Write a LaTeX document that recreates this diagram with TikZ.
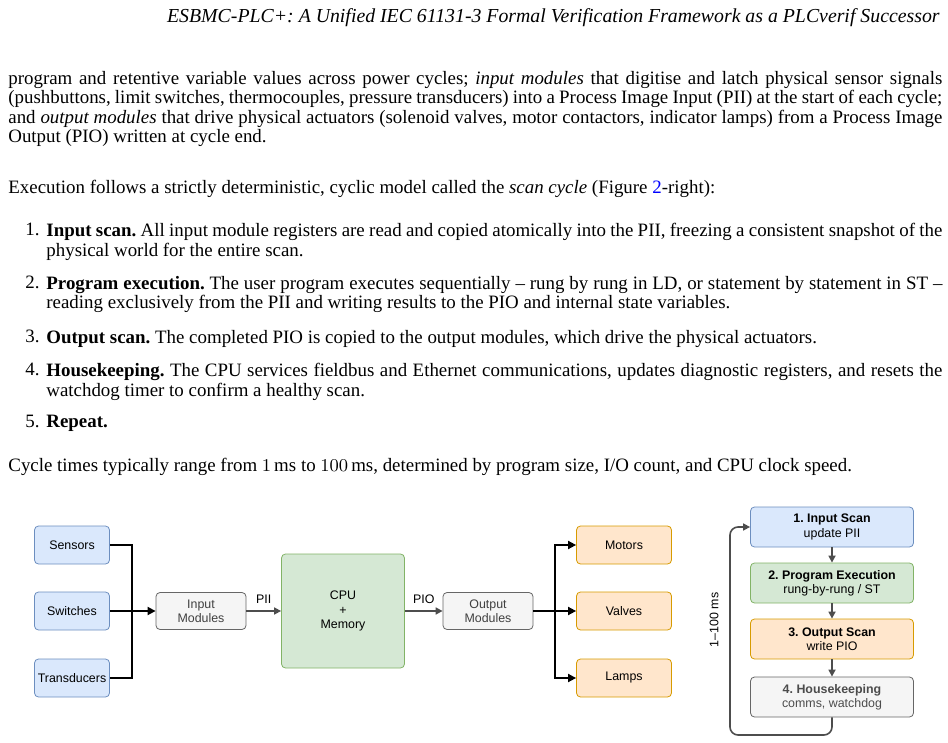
\documentclass[tikz,border=0pt]{standalone}
\usepackage{fontspec}
\setmainfont{Liberation Serif}
\setsansfont{Liberation Sans}
\usetikzlibrary{positioning,arrows.meta}
\definecolor{bluefill}{HTML}{DAE8FC}\definecolor{bluedraw}{HTML}{6C8EBF}
\definecolor{greenfill}{HTML}{D5E8D4}\definecolor{greendraw}{HTML}{82B366}
\definecolor{orangefill}{HTML}{FFE6CC}\definecolor{orangedraw}{HTML}{D79B00}
\definecolor{greyfill}{HTML}{F5F5F5}\definecolor{greydraw}{HTML}{666666}
\definecolor{darkline}{HTML}{4D4D4D}
\definecolor{linkblue}{HTML}{0000FF}
\frenchspacing
\tikzset{
  para/.style={anchor=north west,inner sep=0pt,text width=467pt,align=justify,font=\fontsize{9.45}{9.65}\selectfont},
  item/.style={anchor=north west,inner sep=0pt,text width=448pt,align=justify,font=\fontsize{9.45}{9.65}\selectfont},
  blk/.style={draw,rounded corners=2pt,line width=0.4pt,font=\sffamily\fontsize{6.2}{7.2}\selectfont,align=center,inner sep=0pt},
  io/.style={blk,minimum width=37.5pt,minimum height=19pt},
  inblk/.style={io,fill=bluefill,draw=bluedraw},
  outblk/.style={blk,minimum width=47.5pt,minimum height=19pt,fill=orangefill,draw=orangedraw},
  mod/.style={blk,minimum width=45pt,minimum height=18.5pt,fill=greyfill,draw=greydraw,text=black!75},
  stage/.style={blk,minimum width=81.5pt,minimum height=20pt},
  bus/.style={line width=0.9pt,-{Triangle[length=4pt,width=4pt]}},
  flow/.style={line width=0.8pt,darkline,-{Triangle[length=3.5pt,width=3.5pt]}}
}
\begin{document}
\begin{tikzpicture}[x=0.5pt,y=-0.5pt]
\useasboundingbox (0,0) rectangle (948,743);
% page text
\node[anchor=east,inner sep=0pt,font=\itshape\fontsize{9.9}{11}\selectfont] (head) at (940,18)
  {ESBMC-PLC+: A Unified IEC 61131-3 Formal Verification Framework as a PLCverif Successor};
\node[para] (p1) at (8,71) {program and retentive variable values across power cycles; \textit{input modules} that digitise and latch physical sensor signals (pushbuttons, limit switches, thermocouples, pressure transducers) into a Process Image Input (PII) at the start of each cycle; and \textit{output modules} that drive physical actuators (solenoid valves, motor contactors, indicator lamps) from a Process Image Output (PIO) written at cycle end.};
\node[para] (p2) at (8,180) {Execution follows a strictly deterministic, cyclic model called the \textit{scan cycle} (Figure \textcolor{linkblue}{2}-right):};
\node[para,text width=20pt,align=right,anchor=north east] (n1) at (40,223) {1.};
\node[item] (i1) at (46,223) {\textbf{Input scan.} All input module registers are read and copied atomically into the PII, freezing a consistent snapshot of the physical world for the entire scan.};
\node[para,text width=20pt,align=right,anchor=north east] (n2) at (40,276) {2.};
\node[item] (i2) at (46,276) {\textbf{Program execution.} The user program executes sequentially -- rung by rung in LD, or statement by statement in ST -- reading exclusively from the PII and writing results to the PIO and internal state variables.};
\node[para,text width=20pt,align=right,anchor=north east] (n3) at (40,330) {3.};
\node[item] (i3) at (46,330) {\textbf{Output scan.} The completed PIO is copied to the output modules, which drive the physical actuators.};
\node[para,text width=20pt,align=right,anchor=north east] (n4) at (40,363) {4.};
\node[item] (i4) at (46,363) {\textbf{Housekeeping.} The CPU services fieldbus and Ethernet communications, updates diagnostic registers, and resets the watchdog timer to confirm a healthy scan.};
\node[para,text width=20pt,align=right,anchor=north east] (n5) at (40,415) {5.};
\node[item] (i5) at (46,415) {\textbf{Repeat.}};
\node[para] (p3) at (8,458) {Cycle times typically range from $1\,\mathrm{ms}$ to $100\,\mathrm{ms}$, determined by program size, I/O count, and CPU clock speed.};

% I/O architecture
\node[inblk] (sensors) at (72,545) {Sensors};
\node[inblk] (switches) at (72,611) {Switches};
\node[inblk] (transd) at (72,678) {Transducers};
\node[mod] (inmod) at (201,611) {Input\\Modules};
\node[blk,fill=greenfill,draw=greendraw,minimum width=61.5pt,minimum height=57pt] (cpu) at (343,611) {CPU\\+\\Memory};
\node[mod] (outmod) at (488,611) {Output\\Modules};
\node[outblk] (motors) at (624,545) {Motors};
\node[outblk] (valves) at (624,611) {Valves};
\node[outblk] (lamps) at (624,678) {Lamps};
\coordinate (inbus) at (132,611);
\coordinate (outbus) at (555,611);
\draw[line width=0.9pt] (sensors.east) -| (inbus);
\draw[line width=0.9pt] (transd.east) -| (inbus);
\draw[bus] (switches.east) -- (inmod.west);
\draw[flow] (inmod.east) -- node[above,font=\sffamily\fontsize{6.2}{7.2}\selectfont,black]{PII} (cpu.west);
\draw[flow] (cpu.east) -- node[above,font=\sffamily\fontsize{6.2}{7.2}\selectfont,black]{PIO} (outmod.west);
\draw[bus] (outmod.east) -- (valves.west);
\draw[bus] (outbus) |- (motors.west);
\draw[bus] (outbus) |- (lamps.west);

% scan cycle
\node[stage,fill=bluefill,draw=bluedraw] (s1) at (832,527) {\textbf{1. Input Scan}\\update PII};
\node[stage,fill=greenfill,draw=greendraw] (s2) at (832,583) {\textbf{2. Program Execution}\\rung-by-rung / ST};
\node[stage,fill=orangefill,draw=orangedraw] (s3) at (832,639) {\textbf{3. Output Scan}\\write PIO};
\node[stage,fill=greyfill,draw=greydraw,text=black!70] (s4) at (832,697) {\textbf{4. Housekeeping}\\comms, watchdog};
\draw[flow] (s1) -- (s2);
\draw[flow] (s2) -- (s3);
\draw[flow] (s3) -- (s4);
\draw[flow,rounded corners=4pt] (s4.south) -- (832,735) -- (730,735) -- (730,527) -- (s1.west);
\node[rotate=90,font=\sffamily\fontsize{6.2}{7.2}\selectfont] (cyc) at (714,620) {1--100 ms};
\end{tikzpicture}
\end{document}
